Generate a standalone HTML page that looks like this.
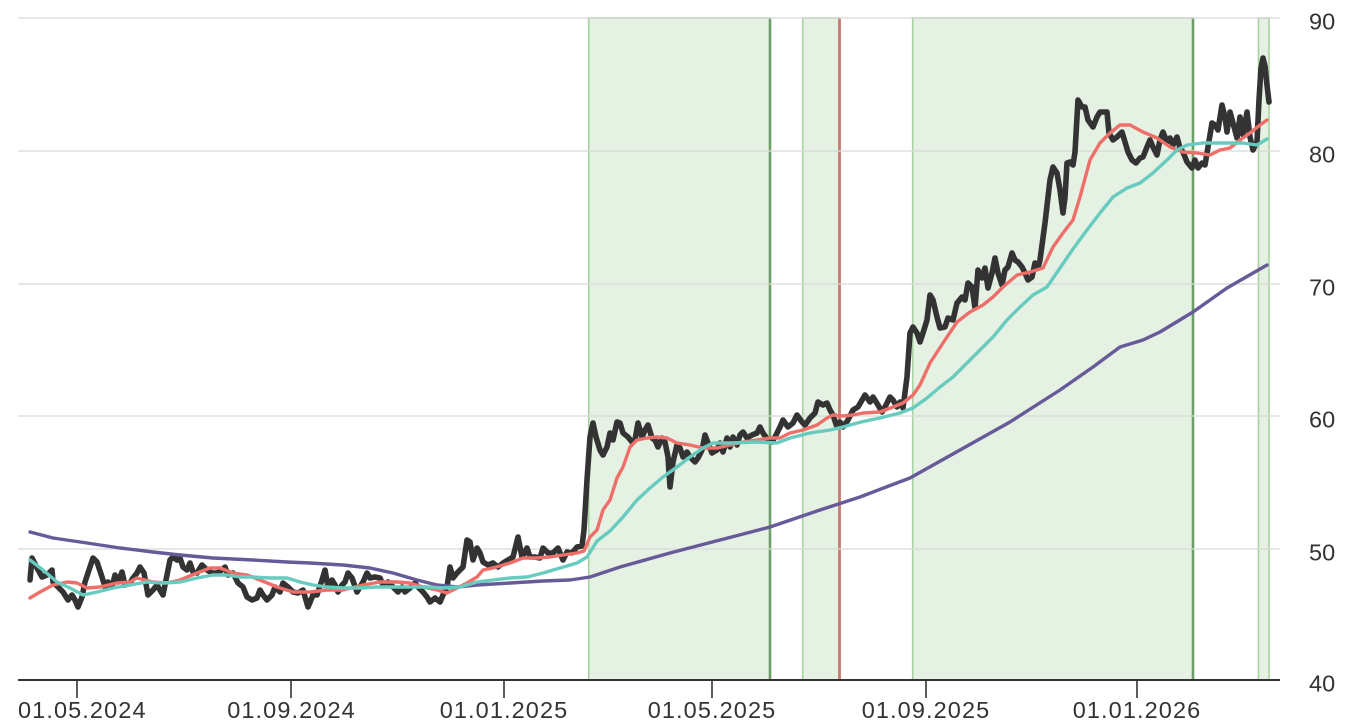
<!DOCTYPE html>
<html><head><meta charset="utf-8"><style>
html,body{margin:0;padding:0;background:#fff;}
svg{display:block;}
text{font-family:"Liberation Sans",Arial,sans-serif;fill:#333;}
</style></head><body>
<svg width="1356" height="728" viewBox="0 0 1356 728" xmlns="http://www.w3.org/2000/svg">
<rect width="1356" height="728" fill="#fff"/>
<!-- zones -->
<g fill="#e5f1e3" stroke="#a9d2a2" stroke-width="1.6">
<rect x="588.7" y="18" width="181.3" height="662"/>
<rect x="802.7" y="18" width="36.6" height="662"/>
<rect x="912.7" y="18" width="280.3" height="662"/>
<rect x="1258.5" y="18" width="10.5" height="662"/>
</g>
<line x1="770" y1="18" x2="770" y2="680" stroke="#6c9e68" stroke-width="2.6"/>
<line x1="1193" y1="18" x2="1193" y2="680" stroke="#6c9e68" stroke-width="2.6"/>
<line x1="839.5" y1="18" x2="839.5" y2="680" stroke="#c97a6c" stroke-width="2.8"/>
<!-- grid -->
<g stroke="#d9d9d9" stroke-opacity="0.85" stroke-width="1.6">
<line x1="18" y1="18" x2="1280" y2="18"/>
<line x1="18" y1="151" x2="1280" y2="151"/>
<line x1="18" y1="284" x2="1280" y2="284"/>
<line x1="18" y1="416" x2="1280" y2="416"/>
<line x1="18" y1="549" x2="1280" y2="549"/>
</g>
<!-- axis -->
<line x1="18" y1="680" x2="1280" y2="680" stroke="#333" stroke-width="2"/>
<g stroke="#333" stroke-width="1.6">
<line x1="77" y1="680" x2="77" y2="698"/>
<line x1="291" y1="680" x2="291" y2="698"/>
<line x1="504" y1="680" x2="504" y2="698"/>
<line x1="712" y1="680" x2="712" y2="698"/>
<line x1="926" y1="680" x2="926" y2="698"/>
<line x1="1137" y1="680" x2="1137" y2="698"/>
</g>
<g font-size="23.5" letter-spacing="1.1">
<text x="18" y="718">01.05.2024</text>
<text x="291.5" y="718" text-anchor="middle">01.09.2024</text>
<text x="504" y="718" text-anchor="middle">01.01.2025</text>
<text x="712" y="718" text-anchor="middle">01.05.2025</text>
<text x="926" y="718" text-anchor="middle">01.09.2025</text>
<text x="1137" y="718" text-anchor="middle">01.01.2026</text>
</g>
<g font-size="23.5">
<text x="1309" y="29.5">90</text>
<text x="1309" y="162.5">80</text>
<text x="1309" y="295.5">70</text>
<text x="1309" y="427.5">60</text>
<text x="1309" y="560.5">50</text>
<text x="1309" y="691.5">40</text>
</g>
<!-- price -->
<polyline fill="none" stroke="#333" stroke-width="5.6" stroke-linejoin="round" stroke-linecap="round" points="30,580 32,558 37,568 42,577 47,575 52,570 53,582 58,587 63,592 68,600 72,595 75,600 78,607 82,597 85,582 90,567 93,558 97,562 102,577 105,587 108,582 112,587 115,575 118,582 122,572 125,585 130,583 133,578 137,573 140,567 144,573 148,595 153,590 157,585 160,590 163,595 167,575 170,560 173,557 177,560 180,558 183,567 187,570 190,563 193,572 197,573 202,565 207,570 212,573 217,573 222,570 225,567 228,575 233,573 238,583 243,587 247,597 252,600 257,598 260,590 263,595 267,600 272,595 275,587 280,592 283,583 288,587 293,592 298,593 303,590 308,607 313,595 317,595 322,580 325,570 328,587 332,580 335,585 338,592 342,585 345,582 348,573 352,578 357,592 360,587 363,582 367,573 370,578 375,577 380,578 383,585 388,582 393,587 398,592 402,587 405,592 410,588 415,583 418,587 423,592 427,597 430,602 435,598 440,602 443,595 447,587 450,567 453,578 457,573 460,570 463,567 467,540 470,542 473,560 477,548 480,553 483,562 488,565 493,563 498,567 503,563 508,560 513,557 518,537 522,557 527,548 530,557 535,557 540,558 543,548 548,553 553,553 558,548 563,560 567,552 572,553 577,547 582,546 584,530 587,480 590,437 593,423 596,437 600,450 603,455 607,447 610,433 613,440 617,422 620,423 623,433 628,437 632,442 635,440 638,423 642,437 645,430 648,425 652,438 655,440 658,447 662,438 665,442 668,457 670,487 673,462 677,445 680,448 683,457 687,452 690,457 695,462 698,458 702,450 705,435 708,443 712,453 717,450 720,443 723,452 727,438 730,447 733,437 737,445 740,435 743,432 747,438 752,435 757,433 760,427 763,433 768,440 772,442 775,437 780,427 783,420 788,427 793,423 797,415 802,422 805,425 810,418 815,413 818,402 823,405 827,403 830,410 833,415 837,427 840,422 843,427 848,420 853,410 858,407 865,395 870,402 873,397 878,405 882,412 885,407 890,397 893,400 897,407 900,402 903,408 907,377 910,333 913,327 917,333 920,342 923,333 927,320 930,295 933,300 937,317 940,328 945,327 948,318 953,320 957,303 962,297 965,300 968,283 972,287 975,308 978,270 982,278 985,268 988,288 992,273 995,258 998,273 1002,285 1005,270 1008,267 1012,253 1015,260 1018,262 1022,267 1025,273 1028,280 1032,277 1035,263 1038,268 1040,260 1045,223 1050,180 1053,167 1057,173 1060,190 1063,213 1065,197 1067,163 1070,162 1073,165 1075,152 1078,100 1082,107 1085,107 1088,120 1093,127 1097,117 1100,112 1104,112 1107,112 1109,133 1113,140 1117,137 1122,132 1125,142 1128,152 1132,160 1136,163 1140,158 1143,157 1147,147 1150,140 1153,147 1157,155 1160,140 1163,132 1167,142 1170,138 1173,145 1177,137 1180,148 1183,152 1187,162 1192,168 1195,160 1198,168 1202,163 1205,165 1208,147 1212,123 1215,125 1218,130 1222,105 1225,117 1227,132 1230,112 1233,123 1237,138 1240,117 1243,135 1247,112 1250,137 1253,150 1257,142 1259,100 1261,68 1263,58 1265,66 1267,85 1269,102"/>
<!-- long MA (purple) -->
<polyline fill="none" stroke="#665a98" stroke-width="3.4" stroke-linejoin="round" stroke-linecap="round" points="30,532 53,538 87,543 120,548 153,552 180,555 213,558 253,560 287,562 310,563 343,565 370,568 393,573 417,580 437,585 457,587 477,585 510,583 543,581 570,580 590,577 620,567 670,553 720,540 770,527 820,510 860,497 910,478 960,450 1010,422 1060,390 1093,367 1120,347 1143,340 1160,332 1193,312 1227,288 1267,265"/>
<!-- red MA -->
<polyline fill="none" stroke="#ee6f6a" stroke-width="3.4" stroke-linejoin="round" stroke-linecap="round" points="30,598 40,592 53,585 67,582 77,583 87,588 100,587 117,583 130,582 137,578 153,582 167,583 180,580 197,573 210,568 220,568 233,573 247,575 260,580 277,587 293,592 310,592 327,590 343,590 363,585 380,582 397,582 410,583 423,587 437,590 447,593 457,588 467,583 477,577 483,570 493,568 510,563 523,558 537,558 550,557 563,555 577,553 584,551 590,537 597,530 603,510 610,500 617,478 623,467 630,447 637,440 647,438 657,437 667,438 677,443 690,445 703,448 717,448 730,445 743,442 757,440 770,438 780,438 790,433 803,430 817,425 827,418 833,415 843,416 853,415 863,413 880,412 893,407 903,403 913,395 920,385 930,363 943,343 957,322 970,312 983,305 993,297 1003,287 1017,275 1030,272 1043,268 1053,247 1063,233 1073,220 1080,197 1090,160 1100,143 1110,133 1120,125 1130,125 1143,132 1157,138 1170,147 1183,152 1197,153 1210,155 1220,150 1230,148 1240,140 1250,133 1260,125 1267,120"/>
<!-- teal MA -->
<polyline fill="none" stroke="#67cbbf" stroke-width="3.4" stroke-linejoin="round" stroke-linecap="round" points="30,560 43,570 57,582 70,588 83,595 97,592 113,588 130,585 147,582 163,583 180,582 197,578 213,575 227,575 240,577 253,577 270,578 287,578 300,582 313,585 327,587 343,588 360,588 377,587 393,587 410,587 427,587 443,588 460,587 477,582 493,580 510,578 527,577 543,573 560,568 577,563 587,557 597,541 610,531 623,517 637,500 650,488 663,477 677,467 690,457 703,448 713,443 730,443 757,442 777,443 790,438 810,433 830,430 843,427 857,423 870,420 880,418 900,413 913,408 927,398 940,387 953,377 967,363 980,350 993,337 1007,320 1020,307 1033,295 1047,287 1060,268 1073,249 1087,230 1100,213 1113,197 1127,188 1140,183 1153,173 1167,160 1177,150 1187,145 1203,143 1217,143 1230,143 1243,143 1257,145 1267,139"/>
</svg>
</body></html>
